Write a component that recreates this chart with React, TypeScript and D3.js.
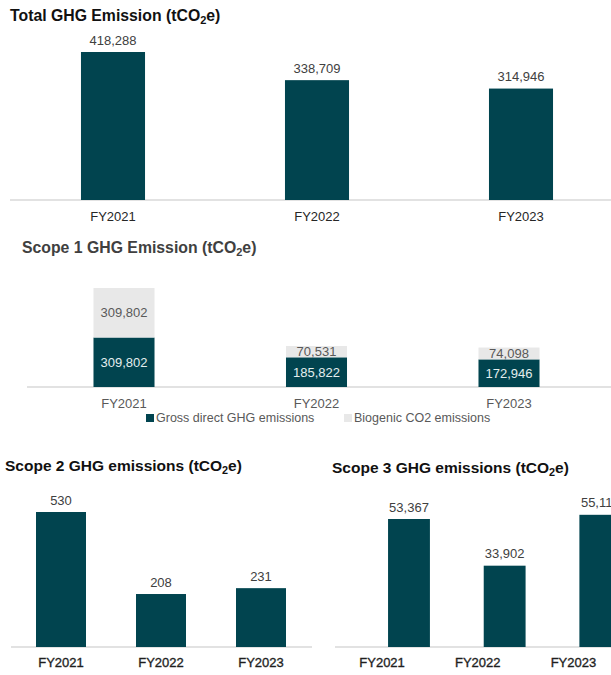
import React from 'react';
import * as d3 from 'd3';

// chart data
const years = ['FY2021', 'FY2022', 'FY2023'];
const totalGhg = [418288, 338709, 314946];
const scope1Gross = [309802, 185822, 172946];
const scope1Biogenic = [309802, 70531, 74098];
const scope1Series = ['Gross direct GHG emissions', 'Biogenic CO2 emissions'];
const scope2 = [530, 208, 231];
const scope3 = [53367, 33902, 55116];
// scope 3 is a clustered chart whose first series is empty
const scope3Series = ['Series 1', 'Scope 3'];

const W = 611;
const H = 675;
const TEAL = '#01444f';
const GREY = '#e8e8e8';
const AXIS = '#d9d9d9';
const FONT = 'Arial, "Liberation Sans", Helvetica, sans-serif';
const fmt = d3.format(',');

const Title = ({ x, y, label, color, size }: { x: number; y: number; label: string; color: string; size: number }) => (
  <text x={x} y={y} fontSize={size} fontWeight="bold" fill={color} fontFamily={FONT}>
    {label}(tCO
    <tspan fontSize={size * 0.7} dy={3}>
      2
    </tspan>
    <tspan dy={-3}>e)</tspan>
  </text>
);

interface BarPanelProps {
  values: number[];
  xRange: [number, number];
  padInner: number;
  base: number;
  top: number;
  axisX: [number, number];
  tickY: number;
  tickHeavy?: boolean;
  series?: string[];
  subPad?: number;
}

// simple column chart with value labels
const BarPanel: React.FC<BarPanelProps> = ({
  values,
  xRange,
  padInner,
  base,
  top,
  axisX,
  tickY,
  tickHeavy,
  series,
  subPad = 0,
}) => {
  const x = d3.scaleBand<string>().domain(years).range(xRange).paddingInner(padInner).paddingOuter(padInner / 2);
  const y = d3.scaleLinear().domain([0, values[0]]).range([base, top]);
  const sub = series
    ? d3.scaleBand<string>().domain(series).range([0, x.bandwidth()]).paddingInner(subPad)
    : null;
  const barX = (d: string) => (x(d) || 0) + (sub ? sub(series![series!.length - 1]) || 0 : 0);
  const barW = sub ? sub.bandwidth() : x.bandwidth();
  return (
    <g fontFamily={FONT}>
      <line x1={axisX[0]} x2={axisX[1]} y1={base} y2={base} stroke={AXIS} strokeWidth={1.5} />
      {years.map((yr, i) => (
        <g key={yr}>
          <rect x={barX(yr)} y={y(values[i])} width={barW} height={base - y(values[i])} fill={TEAL} />
          <text
            x={barX(yr) + barW / 2}
            y={y(values[i]) - 12}
            textAnchor="middle"
            dominantBaseline="central"
            fontSize={13}
            fill="#404040"
          >
            {fmt(values[i])}
          </text>
          <text
            x={(x(yr) || 0) + x.bandwidth() / 2}
            y={tickY}
            textAnchor="middle"
            dominantBaseline="central"
            fontSize={13}
            fill={tickHeavy ? '#1f1f1f' : '#262626'}
            stroke={tickHeavy ? '#1f1f1f' : 'none'}
            strokeWidth={tickHeavy ? 0.35 : 0}
          >
            {yr}
          </text>
        </g>
      ))}
    </g>
  );
};

// scope 1 stacked columns
const Scope1Panel: React.FC = () => {
  const base = 387;
  const x = d3.scaleBand<string>().domain(years).range([27.75, 605.25]).paddingInner(0.683).paddingOuter(0.3415);
  const y = d3.scaleLinear().domain([0, scope1Gross[0]]).range([base, 337.5]);
  const rows = years.map((yr, i) => ({ year: yr, gross: scope1Gross[i], bio: scope1Biogenic[i] }));
  const stack = d3.stack<{ year: string; gross: number; bio: number }>().keys(['gross', 'bio'])(rows);
  const fills = [TEAL, GREY];
  const textFills = ['#e4eeee', '#595959'];
  return (
    <g fontFamily={FONT}>
      <line x1={27} x2={611} y1={base} y2={base} stroke={AXIS} strokeWidth={1.5} />
      {stack.map((layer, li) =>
        layer.map((seg, i) => {
          const y0 = y(seg[0]);
          const y1 = y(seg[1]);
          const bx = x(years[i]) || 0;
          return (
            <g key={`${li}-${i}`}>
              <rect x={bx} y={y1} width={x.bandwidth()} height={y0 - y1} fill={fills[li]} />
              <text
                x={bx + x.bandwidth() / 2}
                y={(y0 + y1) / 2}
                textAnchor="middle"
                dominantBaseline="central"
                fontSize={13}
                fill={textFills[li]}
              >
                {fmt(seg[1] - seg[0])}
              </text>
            </g>
          );
        })
      )}
      {years.map(yr => (
        <text
          key={yr}
          x={(x(yr) || 0) + x.bandwidth() / 2}
          y={403}
          textAnchor="middle"
          dominantBaseline="central"
          fontSize={13}
          fill="#595959"
        >
          {yr}
        </text>
      ))}
      {scope1Series.map((s, i) => {
        const lx = i === 0 ? 146 : 344;
        return (
          <g key={s}>
            <rect x={lx} y={414} width={8} height={8} fill={fills[i]} />
            <text x={lx + 10} y={418} dominantBaseline="central" fontSize={12.5} fill="#595959">
              {s}
            </text>
          </g>
        );
      })}
    </g>
  );
};

export default function App() {
  return (
    <svg
      width={W}
      height={H}
      style={{ position: 'absolute', left: 0, top: 0, display: 'block', background: '#fff', overflow: 'hidden' }}
    >
      <rect width={W} height={H} fill="#fff" />
      <Title x={10} y={20.5} label="Total GHG Emission " color="#111" size={15.8} />
      <BarPanel
        values={totalGhg}
        xRange={[11, 623]}
        padInner={0.686}
        base={200}
        top={52}
        axisX={[10, 611]}
        tickY={216}
      />

      <Title x={22} y={252.5} label="Scope 1 GHG Emission " color="#404040" size={15.8} />
      <Scope1Panel />

      <Title x={5} y={470.5} label="Scope 2 GHG emissions " color="#111" size={15.5} />
      <BarPanel
        values={scope2}
        xRange={[11, 311]}
        padInner={0.5}
        base={647}
        top={512}
        axisX={[11, 312]}
        tickY={662}
        tickHeavy
      />

      <Title x={332} y={472.5} label="Scope 3 GHG emissions " color="#111" size={15.5} />
      <BarPanel
        values={scope3}
        xRange={[334.25, 621.25]}
        padInner={0}
        base={647}
        top={519}
        axisX={[335, 611]}
        tickY={662}
        tickHeavy
        series={scope3Series}
        subPad={0.222}
      />
    </svg>
  );
}
